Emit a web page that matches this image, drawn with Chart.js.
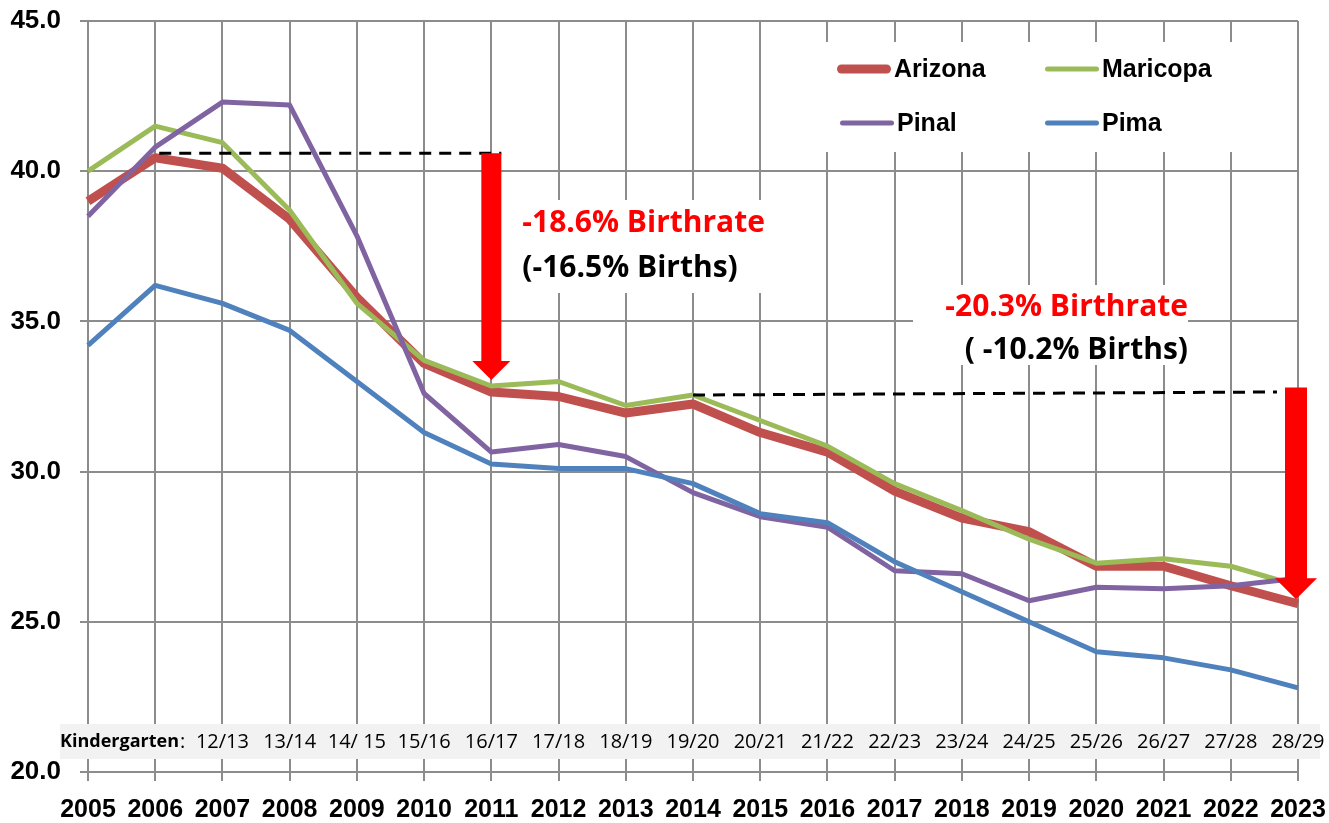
<!DOCTYPE html>
<html>
<head>
<meta charset="utf-8">
<script src="https://cdn.jsdelivr.net/npm/chart.js@4.4.1/dist/chart.umd.min.js"></script>
<style>
  html, body { margin: 0; padding: 0; background: #fff; }
  canvas { display: block; }
</style>
</head>
<body>
<canvas id="myChart" width="1329" height="823"></canvas>
<script>
// birth year on the x axis
var years = ['2005', '2006', '2007', '2008', '2009', '2010', '2011', '2012', '2013', '2014',
             '2015', '2016', '2017', '2018', '2019', '2020', '2021', '2022', '2023'];
// school year these kids reach kindergarten
var kinderLabels = ['', '', '12/13', '13/14', '14/ 15', '15/16', '16/17', '17/18', '18/19', '19/20',
                    '20/21', '21/22', '22/23', '23/24', '24/25', '25/26', '26/27', '27/28', '28/29'];

var arizona  = [39.0, 40.45, 40.1, 38.4, 35.8, 33.6, 32.65, 32.5, 31.95, 32.25, 31.3, 30.65, 29.35, 28.45, 28.0, 26.85, 26.85, 26.2, 25.6];
var maricopa = [40.0, 41.5, 40.95, 38.7, 35.6, 33.7, 32.85, 33.0, 32.2, 32.55, 31.7, 30.85, 29.6, 28.7, 27.75, 26.95, 27.1, 26.85, 26.2];
var pinal    = [38.5, 40.8, 42.3, 42.2, 37.85, 32.6, 30.65, 30.9, 30.5, 29.3, 28.5, 28.15, 26.7, 26.6, 25.7, 26.15, 26.1, 26.2, 26.45];
var pima     = [34.2, 36.2, 35.6, 34.7, 33.0, 31.3, 30.25, 30.1, 30.1, 29.6, 28.6, 28.3, 27.0, 26.0, 25.0, 24.0, 23.8, 23.4, 22.8];

var yTicks = [20, 25, 30, 35, 40, 45];

// the two drops marked on the chart
var drop1 = { from: 1, to: 6, level: 40.6, tip: 33.05, rate: '-18.6% Birthrate', births: '(-16.5% Births)' };
var drop2 = { from: 9, to: 18, level: 32.6, tip: 25.75, rate: '-20.3% Birthrate', births: '( -10.2% Births)' };

var colors = { arizona: '#C0504D', maricopa: '#9BBB59', pinal: '#8064A2', pima: '#4F81BD' };
var sansFamily = "'Liberation Sans', Arial, sans-serif";
var gridColor = '#8c8c8c';

function arrowDown(ctx, x, yTop, yTip, shaftW, headW, headH) {
    ctx.fillStyle = '#FF0000';
    ctx.beginPath();
    ctx.moveTo(x - shaftW / 2, yTop);
    ctx.lineTo(x + shaftW / 2, yTop);
    ctx.lineTo(x + shaftW / 2, yTip - headH);
    ctx.lineTo(x + headW / 2, yTip - headH);
    ctx.lineTo(x, yTip);
    ctx.lineTo(x - headW / 2, yTip - headH);
    ctx.lineTo(x - shaftW / 2, yTip - headH);
    ctx.closePath();
    ctx.fill();
}

function dashed(ctx, x1, y1, x2, y2) {
    ctx.save();
    ctx.strokeStyle = '#000';
    ctx.lineWidth = 3;
    ctx.setLineDash([12, 8]);
    ctx.beginPath();
    ctx.moveTo(x1, y1);
    ctx.lineTo(x2, y2);
    ctx.stroke();
    ctx.restore();
}

var decor = {
    id: 'decor',
    beforeDatasetsDraw: function (chart) {
        var ctx = chart.ctx, xs = chart.scales.x, ys = chart.scales.y;
        ctx.save();
        // kindergarten band
        ctx.fillStyle = '#F2F2F2';
        ctx.fillRect(60, 724, 1260, 35);
        var by = 742;
        ctx.fillStyle = '#000';
        ctx.textBaseline = 'middle';
        ctx.textAlign = 'left';
        ctx.font = "bold 18px 'Open Sans', sans-serif";
        ctx.fillText('Kindergarten', 60, by);
        var w = ctx.measureText('Kindergarten').width;
        ctx.font = "20px 'Open Sans', sans-serif";
        ctx.fillText(':', 61 + w, by);
        ctx.textAlign = 'center';
        for (var i = 0; i < kinderLabels.length; i++) {
            if (kinderLabels[i]) ctx.fillText(kinderLabels[i], xs.getPixelForValue(i), by);
        }
        // white boxes behind the notes and legend
        ctx.fillStyle = '#fff';
        ctx.fillRect(xs.getPixelForValue(drop1.to) + 24, 200, 275, 93);
        ctx.fillRect(913, 285, 275, 80);
        ctx.fillRect(790, 42, 500, 110);
        ctx.restore();
    },
    afterDatasetsDraw: function (chart) {
        var ctx = chart.ctx, xs = chart.scales.x, ys = chart.scales.y;
        ctx.save();
        // first drop
        var x1 = xs.getPixelForValue(drop1.to);
        dashed(ctx, xs.getPixelForValue(drop1.from) + 4, ys.getPixelForValue(drop1.level), x1 + 10, ys.getPixelForValue(drop1.level));
        arrowDown(ctx, x1, ys.getPixelForValue(drop1.level), ys.getPixelForValue(drop1.tip), 20, 38, 19);
        // second drop
        var x2 = xs.getPixelForValue(drop2.to);
        dashed(ctx, xs.getPixelForValue(drop2.from), ys.getPixelForValue(drop2.level - 0.05), x2 - 21, ys.getPixelForValue(drop2.level + 0.05));
        arrowDown(ctx, x2 - 2, ys.getPixelForValue(drop2.level + 0.2), ys.getPixelForValue(drop2.tip), 22, 42, 21);

        ctx.font = "bold 30px 'Open Sans', sans-serif";
        ctx.textBaseline = 'middle';
        ctx.textAlign = 'left';
        ctx.fillStyle = '#FF0000';
        ctx.fillText(drop1.rate, x1 + 31, 223);
        ctx.fillStyle = '#000';
        ctx.fillText(drop1.births, x1 + 31, 268);
        ctx.textAlign = 'right';
        ctx.fillStyle = '#FF0000';
        ctx.fillText(drop2.rate, 1188, 307);
        ctx.fillStyle = '#000';
        ctx.fillText(drop2.births, 1188, 350);

        // legend, two columns
        var items = [
            { label: 'Arizona', color: colors.arizona, w: 9, x: 837, y: 69 },
            { label: 'Maricopa', color: colors.maricopa, w: 5, x: 1045, y: 69 },
            { label: 'Pinal', color: colors.pinal, w: 5, x: 840, y: 123 },
            { label: 'Pima', color: colors.pima, w: 5, x: 1045, y: 123 }
        ];
        ctx.lineCap = 'round';
        ctx.textAlign = 'left';
        ctx.font = 'bold 25px ' + sansFamily;
        items.forEach(function (it) {
            ctx.strokeStyle = it.color;
            ctx.lineWidth = it.w;
            ctx.beginPath();
            ctx.moveTo(it.x + it.w / 2, it.y);
            ctx.lineTo(it.x + 54 - it.w / 2, it.y);
            ctx.stroke();
            ctx.fillStyle = '#000';
            ctx.fillText(it.label, it.x + 57, it.y + 1);
        });
        ctx.restore();
    }
};

function series(label, data, color, width, order) {
    return {
        label: label,
        data: data,
        borderColor: color,
        backgroundColor: color,
        borderWidth: width,
        pointRadius: 0,
        pointHoverRadius: 0,
        borderJoinStyle: 'round',
        tension: 0,
        clip: 12,
        order: order
    };
}

var ctx = document.getElementById('myChart').getContext('2d');
var myChart = new Chart(ctx, {
    type: 'line',
    data: {
        labels: years,
        datasets: [
            series('Arizona', arizona, colors.arizona, 9, 3),
            series('Maricopa', maricopa, colors.maricopa, 5, 2),
            series('Pinal', pinal, colors.pinal, 5, 1),
            series('Pima', pima, colors.pima, 5, 0)
        ]
    },
    options: {
        responsive: false,
        animation: false,
        devicePixelRatio: 1,
        layout: { padding: { top: 21, right: 31, bottom: 0, left: 0 } },
        plugins: {
            legend: { display: false },
            tooltip: { enabled: false }
        },
        scales: {
            x: {
                offset: false,
                grid: { color: gridColor, lineWidth: 2, tickLength: 9, offset: false },
                border: { color: gridColor, width: 2 },
                ticks: {
                    color: '#000',
                    font: { family: sansFamily, size: 25, weight: 'bold' },
                    padding: 14,
                    maxRotation: 0,
                    autoSkip: false
                },
                afterFit: function (scale) {
                    scale.height = 51;
                    scale.paddingLeft = 0;
                    scale.paddingRight = 0;
                }
            },
            y: {
                min: 20,
                max: 45,
                afterBuildTicks: function (scale) {
                    scale.ticks = yTicks.map(function (v) { return { value: v }; });
                },
                grid: { color: gridColor, lineWidth: 2, tickLength: 8 },
                border: { color: gridColor, width: 2 },
                ticks: {
                    color: '#000',
                    font: { family: sansFamily, size: 26, weight: 'bold' },
                    padding: 19,
                    callback: function (v) { return Number(v).toFixed(1); }
                },
                afterFit: function (scale) {
                    scale.width = 88;
                    scale.paddingTop = 0;
                    scale.paddingBottom = 0;
                }
            }
        }
    },
    plugins: [decor]
});
</script>
</body>
</html>
